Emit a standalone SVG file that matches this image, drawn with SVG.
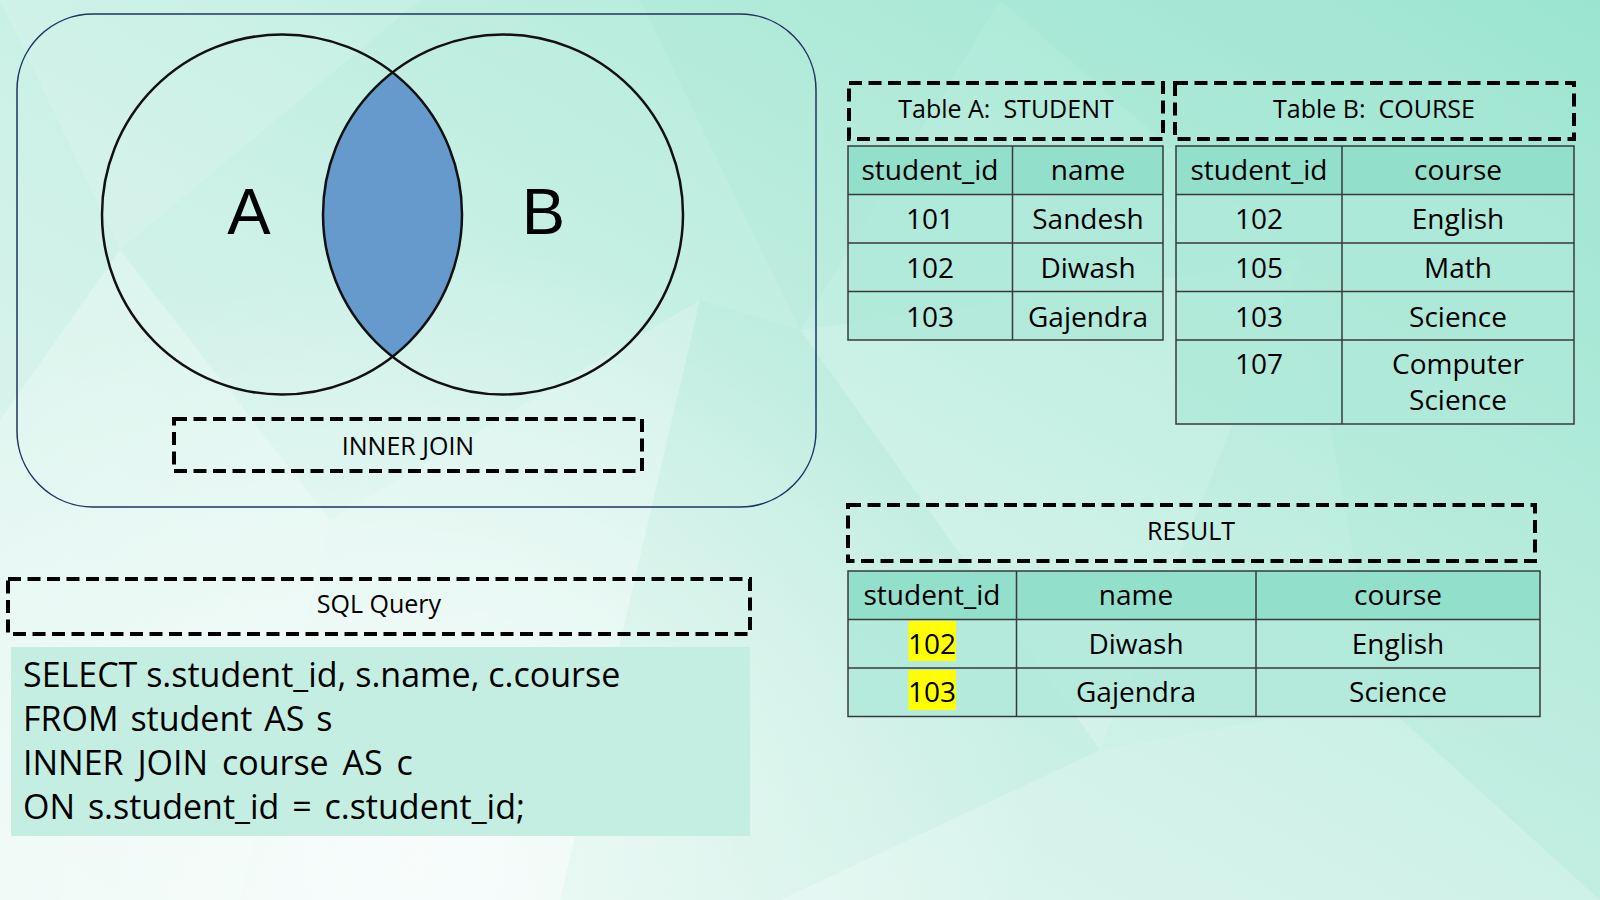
<svg xmlns="http://www.w3.org/2000/svg" width="1600" height="900" viewBox="0 0 1600 900">
  <defs>
    <linearGradient id="bgGrad" x1="0" y1="1" x2="1" y2="0">
      <stop offset="0" stop-color="#e6f7f2"/>
      <stop offset="0.45" stop-color="#cdf1e7"/>
      <stop offset="1" stop-color="#9fe7d2"/>
    </linearGradient>
    <radialGradient id="glow" cx="420" cy="860" r="620" gradientUnits="userSpaceOnUse">
      <stop offset="0" stop-color="#ffffff" stop-opacity="0.75"/>
      <stop offset="0.6" stop-color="#ffffff" stop-opacity="0.3"/>
      <stop offset="1" stop-color="#ffffff" stop-opacity="0"/>
    </radialGradient>
    <style>
      .t { font-family: "Open Sans", "Noto Sans", "DejaVu Sans", sans-serif; fill: #000; }
      .cell { font-size: 28px; text-anchor: middle; }
      .lbl { font-size: 25px; text-anchor: middle; }
      .code { font-size: 34px; }
      .dash { fill: none; stroke: #000; stroke-width: 4; stroke-dasharray: 13 6.5; }
      .hdr { fill: #92dfcc; }
      .dat { fill: #aee9d8; fill-opacity: 0.8; }
      .grid { fill: none; stroke: #3a3a3a; stroke-width: 1.5; }
      .poly-w { fill: #ffffff; }
      .poly-t { fill: #7fdcc2; }
    </style>
  </defs>

  <!-- background -->
  <rect x="0" y="0" width="1600" height="900" fill="url(#bgGrad)"/>
  <rect x="0" y="0" width="1600" height="900" fill="url(#glow)"/>
  <g id="background-facets">
    <polygon class="poly-w" opacity="0.25" points="120,250 330,520 240,900 0,900 0,420"/>
    <polygon class="poly-w" opacity="0.18" points="330,520 700,300 560,900 240,900"/>
    <polygon class="poly-w" opacity="0.12" points="0,0 420,0 120,250"/>
    <polygon class="poly-t" opacity="0.10" points="1000,0 1600,0 1600,480 1300,260"/>
    <polygon class="poly-t" opacity="0.08" points="640,0 1000,0 800,330"/>
    <polygon class="poly-t" opacity="0.08" points="1300,260 1600,480 1600,900 1380,700"/>
    <polygon class="poly-w" opacity="0.12" points="800,330 1300,260 1100,750"/>
    <polygon class="poly-t" opacity="0.06" points="700,300 800,330 1100,750 780,900 560,900"/>
    <polygon class="poly-w" opacity="0.10" points="1100,750 1380,700 1600,900 780,900"/>
  </g>

  <g id="connectors"></g>

  <!-- Venn panel -->
  <g id="venn-panel">
    <rect x="17" y="14" width="799" height="493" rx="76" ry="76" fill="none" stroke="#1f3460" stroke-width="1.5"/>
  </g>

  <g id="venn">
    <path d="M392.5,72.4 A180,180 0 0 1 392.5,356.6 A180,180 0 0 1 392.5,72.4 Z" fill="#6699cc"/>
    <circle cx="282" cy="214.5" r="180" fill="none" stroke="#111" stroke-width="2.5"/>
    <circle cx="503" cy="214.5" r="180" fill="none" stroke="#111" stroke-width="2.5"/>
    <text x="249" y="234" font-family="'Liberation Sans', Arial, sans-serif" font-size="65" text-anchor="middle" fill="#000">A</text>
    <text x="543.5" y="234" font-family="'Liberation Sans', Arial, sans-serif" font-size="65" text-anchor="middle" fill="#000">B</text>
  </g>

  <g id="inner-join-label">
    <rect class="dash" x="174" y="419" width="468" height="52"/>
    <text class="t lbl" x="408" y="455">INNER JOIN</text>
  </g>

  <!-- Table A -->
  <g id="table-a-title">
    <rect class="dash" x="849" y="83" width="314" height="56"/>
    <text class="t lbl" x="1006" y="118" xml:space="preserve">Table A:  STUDENT</text>
  </g>
  <g id="table-a">
    <rect class="hdr" x="848" y="146" width="315" height="48.5"/>
    <rect class="dat" x="848" y="194.5" width="315" height="145.5"/>
    <rect class="grid" x="848" y="146" width="315" height="194"/>
    <path class="grid" d="M848,194.5 H1163 M848,243 H1163 M848,291.5 H1163 M1012.5,146 V340"/>
    <text class="t cell" x="930" y="180">student_id</text>
    <text class="t cell" x="1088" y="180">name</text>
    <text class="t cell" x="930" y="229">101</text>
    <text class="t cell" x="1088" y="229">Sandesh</text>
    <text class="t cell" x="930" y="278">102</text>
    <text class="t cell" x="1088" y="278">Diwash</text>
    <text class="t cell" x="930" y="326.5">103</text>
    <text class="t cell" x="1088" y="326.5">Gajendra</text>
  </g>

  <!-- Table B -->
  <g id="table-b-title">
    <rect class="dash" x="1175" y="83" width="399" height="56"/>
    <text class="t lbl" x="1374" y="118" xml:space="preserve">Table B:  COURSE</text>
  </g>
  <g id="table-b">
    <rect class="hdr" x="1176" y="146" width="398" height="48.5"/>
    <rect class="dat" x="1176" y="194.5" width="398" height="229.5"/>
    <rect class="grid" x="1176" y="146" width="398" height="278"/>
    <path class="grid" d="M1176,194.5 H1574 M1176,243 H1574 M1176,291.5 H1574 M1176,340 H1574 M1342,146 V424"/>
    <text class="t cell" x="1259" y="180">student_id</text>
    <text class="t cell" x="1458" y="180">course</text>
    <text class="t cell" x="1259" y="229">102</text>
    <text class="t cell" x="1458" y="229">English</text>
    <text class="t cell" x="1259" y="278">105</text>
    <text class="t cell" x="1458" y="278">Math</text>
    <text class="t cell" x="1259" y="326.5">103</text>
    <text class="t cell" x="1458" y="326.5">Science</text>
    <text class="t cell" x="1259" y="374">107</text>
    <text class="t cell" x="1458" y="374">Computer</text>
    <text class="t cell" x="1458" y="410">Science</text>
  </g>

  <!-- Result -->
  <g id="result-title">
    <rect class="dash" x="848" y="505" width="687" height="56"/>
    <text class="t lbl" x="1191" y="540">RESULT</text>
  </g>
  <g id="result-table">
    <rect class="hdr" x="848" y="571" width="692" height="48.5"/>
    <rect class="dat" x="848" y="619.5" width="692" height="97"/>
    <rect class="grid" x="848" y="571" width="692" height="145.5"/>
    <path class="grid" d="M848,619.5 H1540 M848,668 H1540 M1016.5,571 V716.5 M1256,571 V716.5"/>
    <rect x="908.5" y="621" width="47.5" height="40" fill="#ffff00"/>
    <rect x="908.5" y="670" width="47.5" height="40" fill="#ffff00"/>
    <text class="t cell" x="932" y="605">student_id</text>
    <text class="t cell" x="1136" y="605">name</text>
    <text class="t cell" x="1398" y="605">course</text>
    <text class="t cell" x="932" y="653.5">102</text>
    <text class="t cell" x="1136" y="653.5">Diwash</text>
    <text class="t cell" x="1398" y="653.5">English</text>
    <text class="t cell" x="932" y="702">103</text>
    <text class="t cell" x="1136" y="702">Gajendra</text>
    <text class="t cell" x="1398" y="702">Science</text>
  </g>

  <!-- SQL -->
  <g id="sql-title">
    <rect class="dash" x="8" y="579" width="742" height="55"/>
    <text class="t lbl" x="379" y="613">SQL Query</text>
  </g>
  <g id="sql-code">
    <rect x="11" y="647" width="739" height="189" fill="#c5eee3"/>
    <text class="t code" x="23" y="687">SELECT s.student_id, s.name, c.course</text>
    <text class="t code" x="23" y="731" word-spacing="3">FROM student AS s</text>
    <text class="t code" x="23" y="775" word-spacing="5">INNER JOIN course AS c</text>
    <text class="t code" x="23" y="818.5" word-spacing="4">ON s.student_id = c.student_id;</text>
  </g>
</svg>
